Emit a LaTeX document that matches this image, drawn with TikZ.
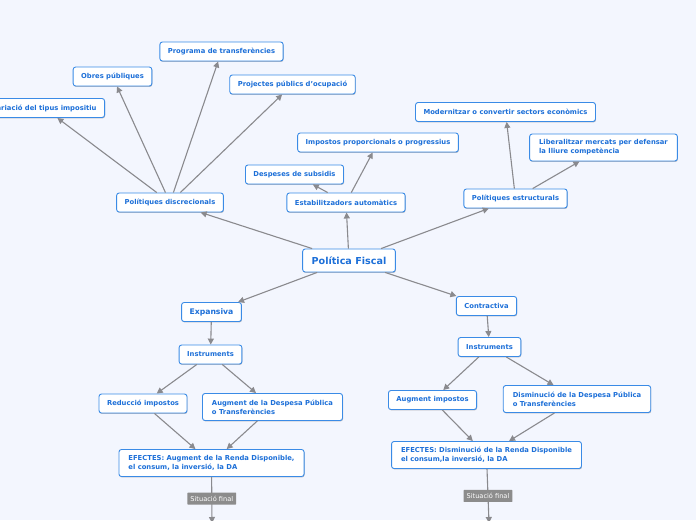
\documentclass[tikz,border=0pt]{standalone}
\usepackage{fontspec}
\setmainfont{DejaVu Sans}
\usetikzlibrary{arrows.meta,shadows}
\definecolor{bgc}{HTML}{F3F6FE}
\definecolor{bordc}{HTML}{3A8BE6}
\definecolor{txtc}{HTML}{1C6FD8}
\definecolor{linec}{HTML}{8A8A8E}
\definecolor{sitc}{HTML}{8C8C8C}
\tikzset{
  box/.style={draw=bordc, fill=white, rounded corners=2.5pt, line width=0.9pt,
    text=txtc, font=\fontsize{6.8}{9}\selectfont\bfseries, inner xsep=8pt,
    inner ysep=3pt, minimum height=19pt,
    drop shadow={shadow xshift=0.5pt, shadow yshift=-0.9pt, opacity=0.25, fill=black}},
  twoline/.style={box, align=left, minimum height=27pt, inner xsep=9.5pt},
  conn/.style={draw=linec, line width=1.1pt, -{Triangle[length=6pt,width=6pt]}},
  sitlabel/.style={fill=sitc, text=white, font=\fontsize{6.6}{8}\selectfont,
    inner xsep=3pt, inner ysep=1.5pt, minimum height=12pt, rounded corners=0.5pt}
}
\begin{document}
\begin{tikzpicture}[x=1pt,y=-1pt]
\useasboundingbox[fill=bgc] (0,0) rectangle (696,520);
% nodes
\node[box, font=\fontsize{9.6}{11}\selectfont\bfseries, minimum height=23pt, inner xsep=9pt] (pf) at (349,260.5) {Política Fiscal};
\node[box] (disc) at (170,202.5) {Polítiques discrecionals};
\node[box] (estab) at (346,202.5) {Estabilitzadors automàtics};
\node[box] (estr) at (515.5,198.5) {Polítiques estructurals};
\node[box, anchor=east] (var) at (105,108) {Variació del tipus impositiu};
\node[box] (obres) at (112.5,76.5) {Obres públiques};
\node[box] (prog) at (221.5,51.5) {Programa de transferències};
\node[box] (proj) at (292.5,84.5) {Projectes públics d'ocupació};
\node[box] (desp) at (294.5,174.5) {Despeses de subsidis};
\node[box] (imp) at (378,142.5) {Impostos proporcionals o progressius};
\node[box] (mod) at (505.5,112) {Modernitzar o convertir sectors econòmics};
\node[twoline] (lib) at (603.5,147.5) {Liberalitzar mercats per defensar\\la lliure competència};
\node[box, font=\fontsize{7.7}{9}\selectfont\bfseries] (exp) at (211.5,312) {Expansiva};
\node[box] (instl) at (210.5,354.5) {Instruments};
\node[box] (red) at (143,403.5) {Reducció impostos};
\node[twoline] (aug) at (272.5,407) {Augment de la Despesa Pública\\o Transferències};
\node[twoline] (efl) at (211.5,463) {EFECTES: Augment de la Renda Disponible,\\el consum, la inversió, la DA};
\node[box] (contr) at (486.5,306) {Contractiva};
\node[box] (instr) at (489.5,347) {Instruments};
\node[box] (augimp) at (432.5,400) {Augment impostos};
\node[twoline] (dism) at (577,399) {Disminució de la Despesa Pública\\o Transferències};
\node[twoline] (efr) at (486.5,455) {EFECTES: Disminució de la Renda Disponible\\el consum,la inversió, la DA};
\coordinate (endl) at (212,523);
\coordinate (endr) at (489,523);
% connectors
\draw[conn] (pf) -- (disc);
\draw[conn] (pf) -- (estab);
\draw[conn] (pf) -- (estr);
\draw[conn] (pf) -- (exp);
\draw[conn] (pf) -- (contr);
\draw[conn] (disc) -- (var);
\draw[conn] (disc) -- (obres);
\draw[conn] (disc) -- (prog);
\draw[conn] (disc) -- (proj);
\draw[conn] (estab) -- (desp);
\draw[conn] (estab) -- (imp);
\draw[conn] (estr) -- (mod);
\draw[conn] (estr) -- (lib);
\draw[conn] (exp) -- (instl);
\draw[conn] (instl) -- (red);
\draw[conn] (instl) -- (aug);
\draw[conn] (red) -- (efl);
\draw[conn] (aug) -- (efl);
\draw[conn] (contr) -- (instr);
\draw[conn] (instr) -- (augimp);
\draw[conn] (instr) -- (dism);
\draw[conn] (augimp) -- (efr);
\draw[conn] (dism) -- (efr);
\draw[conn] (efl) -- node[sitlabel, pos=0.47] (sitl) {Situació final} (endl);
\draw[conn] (efr) -- node[sitlabel, pos=0.5] (sitr) {Situació final} (endr);
\end{tikzpicture}
\end{document}
